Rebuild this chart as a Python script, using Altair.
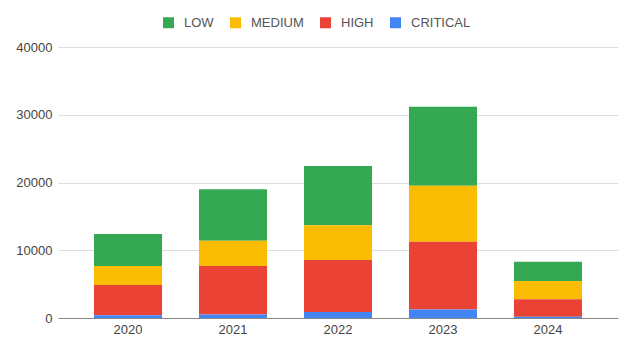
import altair as alt
import pandas as pd

years = ["2020", "2021", "2022", "2023", "2024"]
severities = ["LOW", "MEDIUM", "HIGH", "CRITICAL"]
low = [4720, 7590, 8730, 11660, 2850]
medium = [2810, 3730, 5140, 8270, 2700]
high = [4470, 7180, 7680, 10010, 2560]
critical = [400, 500, 880, 1250, 200]
colors = ["#34a853", "#fbbc04", "#ea4335", "#4285f4"]
stack_rank = {"CRITICAL": 0, "HIGH": 1, "MEDIUM": 2, "LOW": 3}

rows = []
for sev, vals in zip(severities, [low, medium, high, critical]):
    for y, v in zip(years, vals):
        rows.append({"year": y, "severity": sev, "count": v, "rank": stack_rank[sev]})
df = pd.DataFrame(rows)

font = "Liberation Sans"

bars = alt.Chart(df).mark_bar().encode(
    x=alt.X("year:N", sort=years,
            scale=alt.Scale(paddingInner=0.352, paddingOuter=0.343),
            axis=alt.Axis(title=None, labelAngle=0, ticks=False, domain=True,
                          domainColor="#888888", domainWidth=1,
                          labelFont=font, labelFontSize=13, labelColor="#444444",
                          labelPadding=5, grid=False)),
    y=alt.Y("count:Q", stack="zero",
            scale=alt.Scale(domain=[0, 40000], nice=False),
            axis=alt.Axis(title=None, values=[0, 10000, 20000, 30000, 40000],
                          format="d", domain=False, ticks=False,
                          labelFont=font, labelFontSize=13, labelColor="#444444",
                          labelPadding=6, gridColor="#dddddd", gridWidth=1)),
    color=alt.Color("severity:N",
                    scale=alt.Scale(domain=severities, range=colors),
                    legend=alt.Legend(title=None, orient="none", direction="horizontal",
                                      legendX=104, legendY=-31,
                                      symbolType="square", symbolSize=121,
                                      symbolStrokeWidth=0, symbolOpacity=1,
                                      labelFont=font, labelFontSize=13,
                                      labelColor="#555555", labelOffset=9,
                                      columnPadding=15)),
    order=alt.Order("rank:Q", sort="ascending"),
)

chart = bars.properties(
    width=560, height=271,
    autosize=alt.AutoSizeParams(type="none"),
    padding={"left": 58, "top": 47, "right": 7, "bottom": 20},
).configure(background="white").configure_view(strokeWidth=0, stroke="transparent")

chart.save("out.html", embed_options={"renderer": "svg", "actions": False})
